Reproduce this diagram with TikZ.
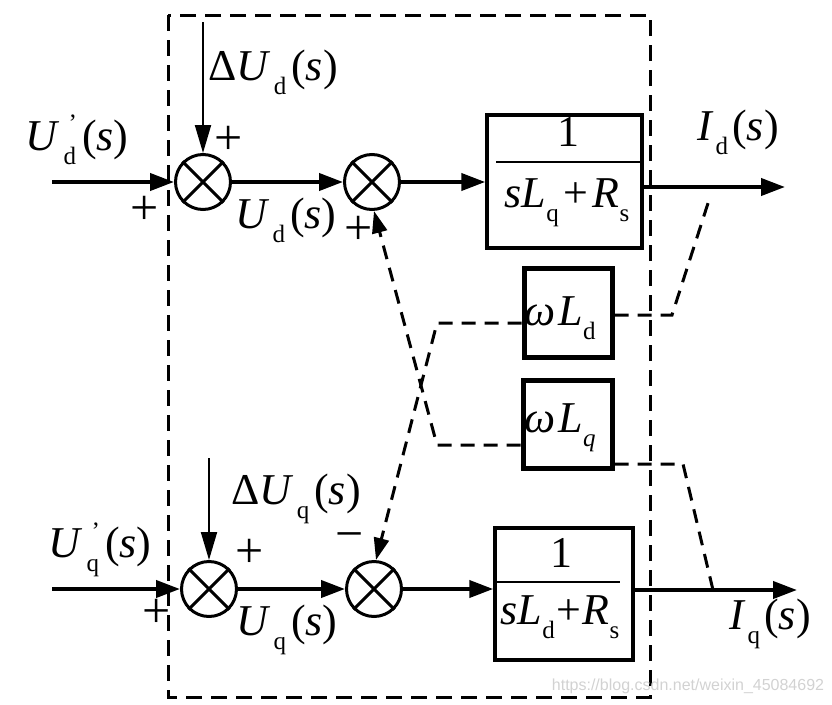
\documentclass[tikz,border=0pt]{standalone}
\usepackage{fontspec}
\setmainfont{Liberation Serif}
\newfontfamily\wmfont{Liberation Sans}
\usetikzlibrary{arrows.meta,calc}
\newcommand\sbs[1]{\raisebox{-0.32em}{\fontsize{25}{25}\selectfont #1}}
\newcommand\prsb[1]{\rlap{\raisebox{0.42em}{\fontsize{25}{25}\selectfont\kern5pt '}}\raisebox{-0.32em}{\fontsize{25}{25}\selectfont #1}}
\begin{document}
\begin{tikzpicture}[x=1pt,y=-1pt,
  sumc/.style={circle,draw,line width=3pt,minimum size=55pt,inner sep=0pt},
  blk/.style={draw,line width=3.5pt,inner sep=0pt},
  wblk/.style={draw,line width=5pt,inner sep=0pt},
  sig/.style={line width=4pt,-{Triangle[length=24pt,width=17pt]}},
  tsig/.style={line width=2pt,-{Triangle[length=28pt,width=16pt]}},
  dconn/.style={line width=3pt,dash pattern=on 14pt off 9pt},
  dsig/.style={dconn,-{Triangle[length=22pt,width=15pt]}},
  frame/.style={line width=3pt,dash pattern=on 16pt off 9pt},
  txt/.style={font=\fontsize{44}{46}\selectfont,inner sep=0pt},
  sign/.style={font=\fontsize{50}{50}\selectfont,inner sep=0pt}]
\useasboundingbox (0,0) rectangle (832,704);
% frame
\draw[frame] (168,15) rectangle (650,697);
% summing junctions
\node[sumc] (s1) at (203,182) {};
\node[sumc] (s2) at (372,182) {};
\node[sumc] (s3) at (209,589) {};
\node[sumc] (s4) at (374,589) {};
\foreach \n in {s1,s2,s3,s4}{
  \draw[line width=3pt] (\n.north west) -- (\n.south east) (\n.north east) -- (\n.south west);
}
% blocks
\node[blk,minimum width=155pt,minimum height=133pt] (b1) at (564.5,181.5) {};
\node[blk,minimum width=138pt,minimum height=132pt] (b2) at (564,594) {};
\node[wblk,minimum width=88pt,minimum height=89pt] (wd) at (568,312.5) {};
\node[wblk,minimum width=89pt,minimum height=88pt] (wq) at (567.5,424) {};
% fractions
\coordinate (f1a) at (496,162); \coordinate (f1b) at (640,162);
\draw[line width=2.5pt] (f1a) -- (f1b);
\node[txt] (b1n) at (568,132) {1};
\node[txt] (b1d) at (567,203) {\textit{sL}\sbs{q}\kern5pt+\kern4pt\textit{R}\sbs{s}};
\coordinate (f2a) at (496,582); \coordinate (f2b) at (620,582);
\draw[line width=2.5pt] (f2a) -- (f2b);
\node[txt] (b2n) at (561,553) {1};
\node[txt] (b2d) at (560,617) {\textit{sL}\sbs{d}\kern2pt+\kern1pt\textit{R}\sbs{s}};
\node[txt] (wdt) at (560,318) {\textit{ω}\kern3pt\textit{L}\sbs{d}};
\node[txt] (wqt) at (560,428) {\textit{ω}\kern3pt\textit{L}\sbs{\textit{q}}};
% inputs
\coordinate (ind) at (52,182);
\coordinate (inq) at (52,589);
\coordinate (dud) at (203,22);
\coordinate (duq) at (209,458);
\draw[sig] (ind) -- (s1.west);
\draw[sig] (inq) -- (s3.west);
\draw[tsig] (dud) -- (s1.north);
\draw[tsig] (duq) -- (s3.north);
\draw[sig] (s1.east) -- (s2.west);
\draw[sig] (s2.east) -- (b1.west |- s2);
\draw[sig] (s3.east) -- (s4.west);
\draw[sig] (s4.east) -- (b2.west |- s4);
% outputs
\coordinate (od) at (785,187);
\coordinate (oq) at (797,590);
\draw[sig] (b1.east |- od) -- (od);
\draw[sig] (b2.east |- oq) -- (oq);
% cross couplings
\coordinate (c1) at (437,323);
\coordinate (c2) at (437,445);
\coordinate (c3) at (672,315);
\coordinate (c4) at (710,197);
\coordinate (c5) at (683,464);
\coordinate (c6) at (713,590);
\draw[dsig] (wd.west |- c1) -- (c1) -- ($(s4.north)+(2,0)$);
\draw[dsig] (wq.west |- c2) -- (c2) -- ($(s2.south)+(2,0)$);
\draw[dconn] (wd.east |- c3) -- (c3) -- (c4);
\draw[dconn] (wq.east |- c5) -- (c5) -- (c6);
% labels
\node[txt] (lud) at (77,140) {\textit{U}\kern4pt\prsb{d}\kern6pt(\textit{s})};
\node[txt] (ldud) at (273,72) {Δ\textit{U}\kern3pt\sbs{d}\kern5pt(\textit{s})};
\node[txt] (lud2) at (286,220) {\textit{U}\kern3pt\sbs{d}\kern5pt(\textit{s})};
\node[txt] (lid) at (738,132) {\textit{I}\kern2pt\sbs{d}\kern4pt(\textit{s})};
\node[txt] (luq) at (100,550) {\textit{U}\kern4pt\prsb{q}\kern6pt(\textit{s})};
\node[txt] (lduq) at (296,499) {Δ\textit{U}\kern3pt\sbs{q}\kern5pt(\textit{s})};
\node[txt] (luq2) at (287,630) {\textit{U}\kern3pt\sbs{q}\kern5pt(\textit{s})};
\node[txt] (liq) at (770,624) {\textit{I}\kern2pt\sbs{q}\kern4pt(\textit{s})};
\node[sign] (p1) at (229,140) {+};
\node[sign] (p2) at (145,210) {+};
\node[sign] (p3) at (359,230) {+};
\node[sign] (p4) at (250,553) {+};
\node[sign] (p5) at (157,613) {+};
\node[sign] (m1) at (350,542) {−};
\node[font=\wmfont\fontsize{16}{16}\selectfont,text=gray!35,inner sep=0pt] (wm) at (688,686) {https://blog.csdn.net/weixin\_45084692};
\end{tikzpicture}
\end{document}
